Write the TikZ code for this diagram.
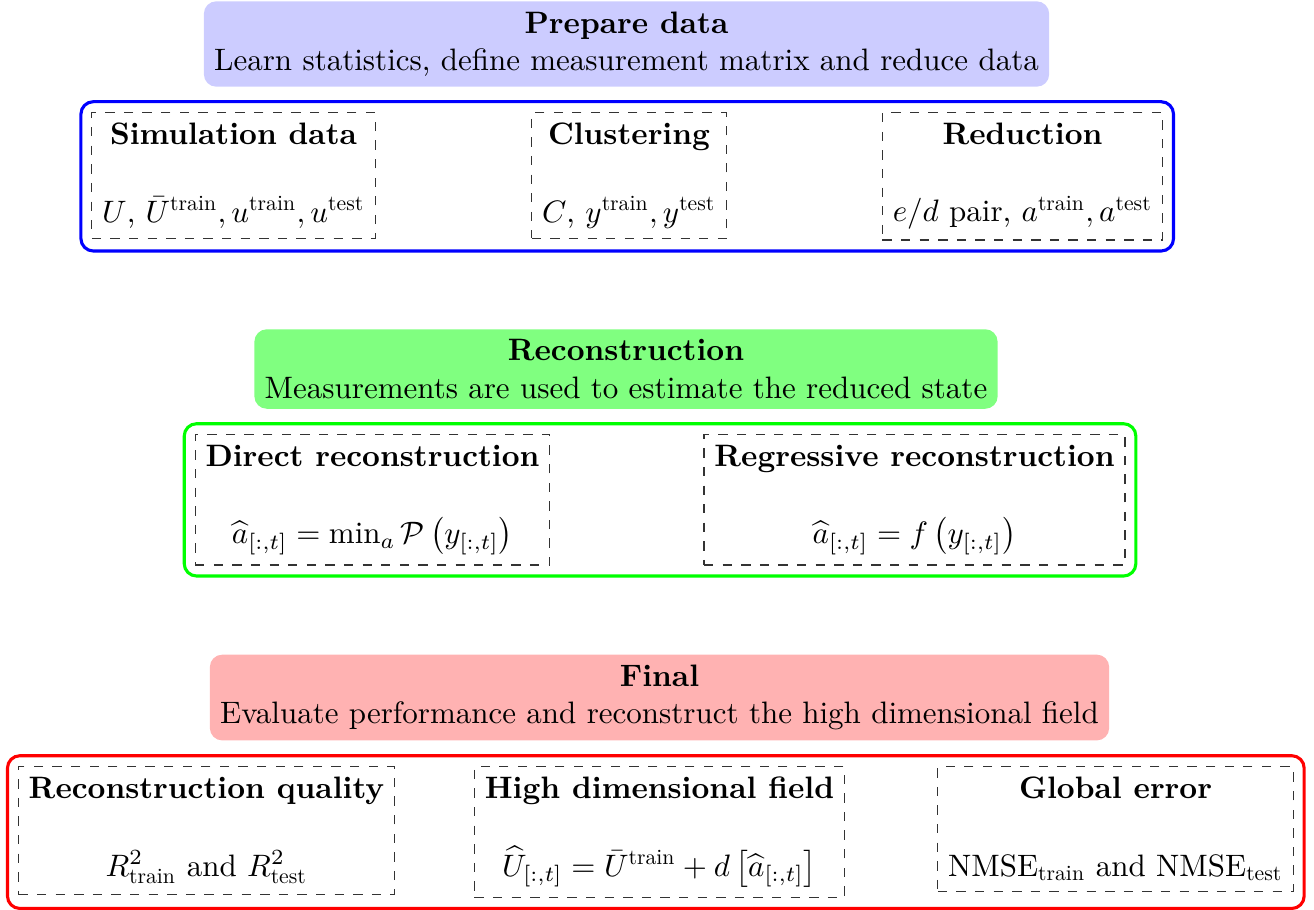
\documentclass[tikz,border=0pt]{standalone}
\usepackage{amsmath}
\usepackage{amssymb}
\usepackage{fontspec}
\setmainfont{lmroman10-regular.otf}[BoldFont=lmroman10-bold.otf]
\usetikzlibrary{fit}

\tikzset{stage/.style={rounded corners, align=center},
         part/.style={draw=black!80, dashed, align=center, anchor=north},
         group/.style={draw, line width=1pt, rounded corners, inner sep=3.33pt}}

\begin{document}
\begin{tikzpicture}[x=0.32258pt, y=-0.32258pt]
\useasboundingbox (0,0) rectangle (1314,909);
% Prepare data
\node[stage, fill=blue!20] (prep) at (626.5,44)
    {\textbf{Prepare data}\\ Learn statistics, define measurement matrix and reduce data};
\node[part] (sim) at (233.5,112)
    {\textbf{Simulation data}\\[13pt] $U$, $\bar{U}^{\text{train}}, u^{\text{train}}, u^{\text{test}}$};
\node[part] (clus) at (629,112)
    {\textbf{Clustering}\\[13pt] $C$, $y^{\text{train}}, y^{\text{test}}$};
\node[part] (redu) at (1022.5,112)
    {\textbf{Reduction}\\[13pt] $e/d$ pair, $a^{\text{train}}, a^{\text{test}}$};
\node[group, draw=blue, fit=(sim)(clus)(redu)] (prepbox) {};
% Reconstruction
\node[stage, fill=green!50] (rec) at (626,369)
    {\textbf{Reconstruction}\\ Measurements are used to estimate the reduced state};
\node[part] (direct) at (372.5,434)
    {\textbf{Direct reconstruction}\\[13pt] $\widehat{a}_{[:,t]} = \min_a \mathcal{P}\left(y_{[:,t]}\right)$};
\node[part] (regr) at (914.5,434)
    {\textbf{Regressive reconstruction}\\[13pt] $\widehat{a}_{[:,t]} = f\left(y_{[:,t]}\right)$};
\node[group, draw=green, fit=(direct)(regr)] (recbox) {};
% Final
\node[stage, fill=red!30] (final) at (659.5,697.5)
    {\textbf{Final}\\ Evaluate performance and reconstruct the high dimensional field};
\node[part] (qual) at (206.5,766)
    {\textbf{Reconstruction quality}\\[13pt] $R^2_{\text{train}}$ and $R^2_{\text{test}}$};
\node[part] (field) at (659.5,766)
    {\textbf{High dimensional field}\\[13pt] $\widehat{U}_{[:,t]} = \bar{U}^{\text{train}} + d\left[\widehat{a}_{[:,t]}\right]$};
\node[part] (err) at (1115.5,766)
    {\textbf{Global error}\\[13pt] $\text{NMSE}_{\text{train}}$ and $\text{NMSE}_{\text{test}}$};
\node[group, draw=red, fit=(qual)(field)(err)] (finalbox) {};
\end{tikzpicture}
\end{document}
